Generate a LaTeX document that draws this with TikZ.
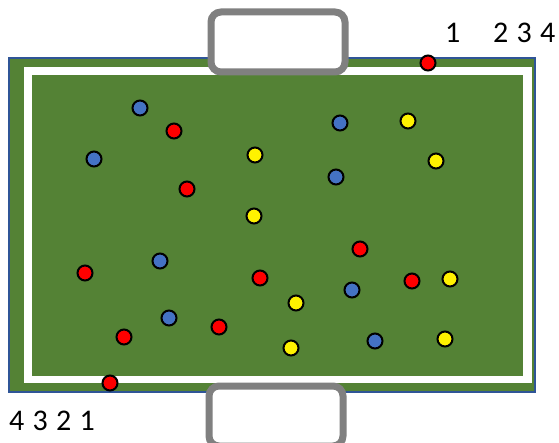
\documentclass[tikz,border=0pt]{standalone}
\usepackage{fontspec}
\setmainfont{Carlito}
\usetikzlibrary{positioning}

\definecolor{pitch}{HTML}{548235}
\definecolor{sideline}{HTML}{2F5597}
\definecolor{teamblue}{HTML}{4472C4}
\definecolor{goalgray}{HTML}{808080}

\newcommand{\digfont}{\fontsize{30}{32}\selectfont\spaceskip=8.3pt\relax}

\begin{document}
\begin{tikzpicture}[x=1pt, y=-1pt,
      pl/.style={circle, draw=black, line width=2pt, minimum size=15pt, inner sep=0pt},
      rp/.style={pl, fill=red},
      bp/.style={pl, fill=teamblue},
      yp/.style={pl, fill=yellow},
      goal/.style={draw=goalgray, fill=white, line width=7pt, rounded corners=10pt,
                   minimum width=134pt, minimum height=60pt, inner sep=0pt},
      num/.style={font=\digfont, inner sep=0pt, anchor=base west}]

    \useasboundingbox (0,0) rectangle (559,443);

    % pitch, touch line and inner area
    \fill[pitch] (9,58) rectangle (535,392);
    \draw[sideline, line width=1.5pt] (9,58) rectangle (535,392);
    \fill[white] (24,67) rectangle (532,383);
    \fill[pitch] (32,75) rectangle (523,376);

    % goals
    \node[goal] (gtop) at (278,42)  {};
    \node[goal] (gbot) at (276,416) {};

    % blue team
    \node[bp] (b1) at (140,108) {};  \node[bp] (b2) at (94,159)  {};
    \node[bp] (b3) at (340,123) {};  \node[bp] (b4) at (336,177) {};
    \node[bp] (b5) at (160,261) {};  \node[bp] (b6) at (352,290) {};
    \node[bp] (b7) at (169,318) {};  \node[bp] (b8) at (375,341) {};

    % red team
    \node[rp] (r1) at (174,131) {};  \node[rp] (r2) at (187,189) {};
    \node[rp] (r3) at (360,249) {};  \node[rp] (r4) at (85,273)  {};
    \node[rp] (r5) at (260,278) {};  \node[rp] (r6) at (412,281) {};
    \node[rp] (r7) at (219,327) {};  \node[rp] (r8) at (124,337) {};
    \node[rp] (r9) at (428,63)  {};  \node[rp] (r10) at (110,383) {};

    % yellow team
    \node[yp] (y1) at (408,121) {};  \node[yp] (y2) at (255,155) {};
    \node[yp] (y3) at (436,161) {};  \node[yp] (y4) at (254,216) {};
    \node[yp] (y5) at (450,279) {};  \node[yp] (y6) at (296,303) {};
    \node[yp] (y7) at (291,348) {};  \node[yp] (y8) at (445,339) {};

    % numbering
    \node[num] (n1)    at (445,43) {1};
    \node[num] (n234)  at (493,43) {2 3 4};
    \node[num] (n4321) at (9,430)  {4 3 2 1};

\end{tikzpicture}
\end{document}
